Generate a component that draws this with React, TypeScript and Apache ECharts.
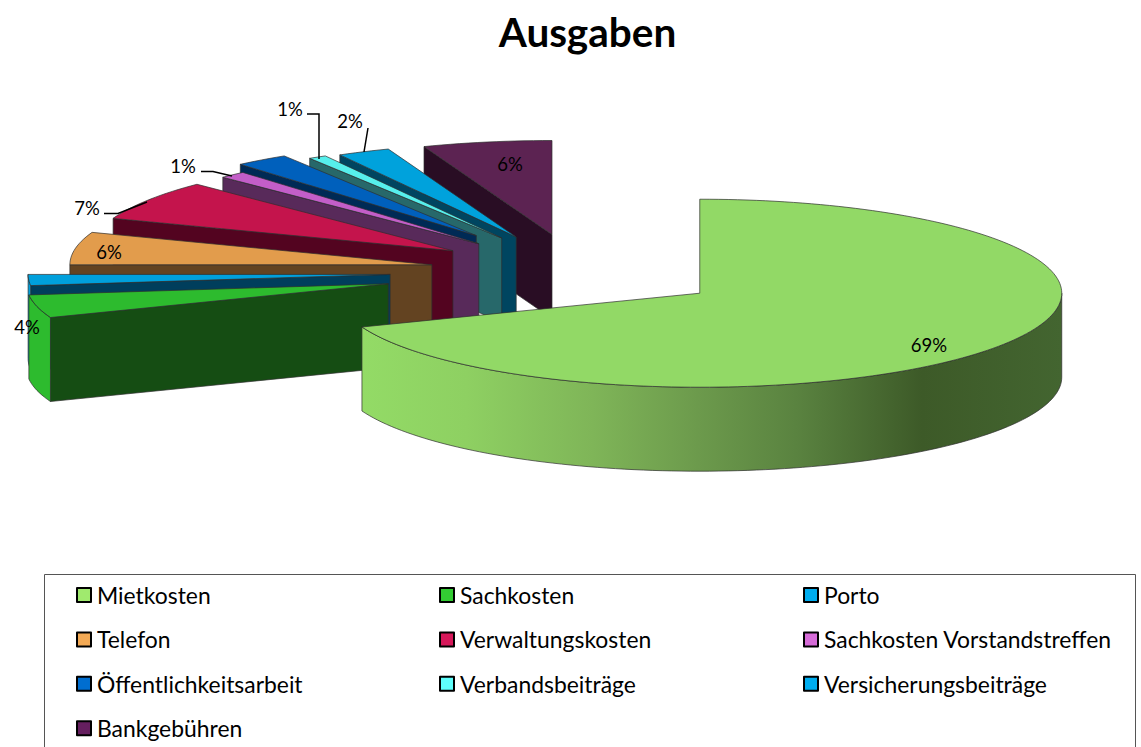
import React, { useEffect, useRef } from "react";
import * as echarts from "echarts";

const categories = ["Mietkosten", "Sachkosten", "Porto", "Telefon", "Verwaltungskosten", "Sachkosten Vorstandstreffen", "Öffentlichkeitsarbeit", "Verbandsbeiträge", "Versicherungsbeiträge", "Bankgebühren"];
const shares = [69.15, 3.95, 1.9, 5.6, 6.9, 1.2, 2.4, 0.8, 2.35, 5.75];
const explosion = [0.408, 0.54, 0.52, 0.41, 0.41, 0.403, 0.474, 0.414, 0.405, 0.4];
const showLabel = [true, true, false, true, true, true, false, true, true, true];

const topColors = ["#92d966", "#2dbb2e", "#00a0dc", "#e29c4c", "#c4144c", "#c35ec8", "#0060bc", "#56efec", "#00a2dc", "#5c2352"];
const faceColors = ["#3f5f2c", "#154d13", "#003e5c", "#634321", "#530420", "#582a5a", "#002a55", "#27686a", "#004560", "#290d24"];
const legendColors = ["#a0ea6e", "#33cc33", "#00adef", "#f4aa55", "#d6185a", "#d66cd8", "#006ed0", "#5ffffc", "#00adef", "#651f5f"];

const labelPos: number[][] = [[929, 345], [27, 327], [0, 0], [109, 252], [87, 208], [183, 166], [0, 0], [290, 109], [350, 121], [510, 164]];
const leaders: number[][][] = [
  [], [], [], [],
  [[104, 213.5], [118, 213.5], [147, 202]],
  [[201, 171.5], [213, 171.5], [232, 176]],
  [],
  [[307, 114], [319, 114], [319, 159]],
  [[368, 128], [364, 152]],
  [],
];

const FONT = "Lato, Carlito, Calibri, sans-serif";
const CX = 578, CY = 271.5, RX = 362, RY = 94, DEPTH = 84;

const cum: number[] = [];
shares.reduce((s, v, i) => { cum[i] = s; return s + v; }, 0);
const total = shares.reduce((a, b) => a + b, 0);
const RAD = Math.PI / 180;

function sliceGeom(i: number) {
  const a0 = (cum[i] / total) * 360;
  const a1 = ((cum[i] + shares[i]) / total) * 360;
  const m = ((a0 + a1) / 2) * RAD;
  const ax = CX + explosion[i] * RX * Math.sin(m);
  const ay = CY - explosion[i] * RY * Math.cos(m);
  const pt = (a: number, dz = 0) => [ax + RX * Math.sin(a * RAD), ay - RY * Math.cos(a * RAD) + dz];
  const arc = (from: number, to: number, dz = 0) => {
    const n = Math.max(2, Math.ceil((to - from) / 1.5));
    const out: number[][] = [];
    for (let k = 0; k <= n; k++) out.push(pt(from + ((to - from) * k) / n, dz));
    return out;
  };
  return { a0, a1, ax, ay, pt, arc };
}

const mainWallFill = {
  type: "linear", x: 0, y: 0, x2: 1, y2: 0,
  colorStops: [
    { offset: 0, color: "#93db66" },
    { offset: 0.15, color: "#8ed062" },
    { offset: 0.33, color: "#7fb558" },
    { offset: 0.48, color: "#6c9a4c" },
    { offset: 0.62, color: "#5a8340" },
    { offset: 0.8, color: "#3d5a28" },
    { offset: 1, color: "#436530" },
  ],
};

const edge = { stroke: "#2e2e2e", lineWidth: 0.7 };

function renderSlice(i: number) {
  return () => {
    const g = sliceGeom(i);
    const children: any[] = [];
    const { a0, a1, ax, ay } = g;
    if (i !== 0) {
      const p0 = g.pt(a0);
      children.push({
        type: "polygon",
        shape: { points: [[ax, ay], p0, [p0[0], p0[1] + DEPTH], [ax, ay + DEPTH]] },
        style: { fill: faceColors[i], ...edge },
      });
    }
    const wallFrom = Math.max(a0, 90);
    const wallTo = Math.min(a1, 270);
    if (wallTo > wallFrom) {
      const pts = g.arc(wallFrom, wallTo).concat(g.arc(wallFrom, wallTo, DEPTH).reverse());
      children.push({
        type: "polygon",
        shape: { points: pts },
        style: { fill: i === 0 ? mainWallFill : topColors[i], ...edge },
      });
    }
    children.push({
      type: "polygon",
      shape: { points: [[ax, ay], ...g.arc(a0, a1)] },
      style: { fill: topColors[i], ...edge },
    });
    return { type: "group", children };
  };
}

function renderLabels(params: any) {
  const i = params.dataIndex;
  if (!showLabel[i]) return { type: "group", children: [] };
  const children: any[] = [];
  if (leaders[i].length) {
    children.push({
      type: "polyline",
      shape: { points: leaders[i] },
      style: { stroke: "#000", lineWidth: 1.5, fill: "none" },
    });
  }
  children.push({
    type: "text",
    style: {
      text: Math.round(shares[i]) + "%",
      x: labelPos[i][0],
      y: labelPos[i][1],
      fill: "#000",
      fontFamily: FONT,
      fontSize: 18.5,
      align: "center",
      verticalAlign: "middle",
    },
  });
  return { type: "group", children };
}

const legendColumns = [
  { left: 76, names: [0, 3, 6, 9] },
  { left: 439, names: [1, 4, 7] },
  { left: 803, names: [2, 5, 8] },
];

export default function App() {
  const ref = useRef<HTMLDivElement>(null);
  useEffect(() => {
    document.body.style.margin = "0";
    const chart = echarts.init(ref.current!, undefined, { renderer: "svg" });
    const order = categories.map((_, i) => i).reverse();
    chart.setOption({
      animation: false,
      backgroundColor: "#fff",
      title: {
        text: "Ausgaben",
        left: 582.5,
        top: 6,
        textAlign: "center",
        textStyle: { fontFamily: FONT, fontSize: 40.5, fontWeight: "bold", color: "#000" },
      },
      legend: legendColumns.map((c) => ({
        orient: "vertical",
        left: c.left,
        top: 582,
        padding: 0,
        itemWidth: 14,
        itemHeight: 14,
        itemGap: 18.4,
        selectedMode: false,
        icon: "rect",
        itemStyle: { borderColor: "#000", borderWidth: 2, borderJoin: "round" },
        textStyle: { fontFamily: FONT, fontSize: 22.9, color: "#000", padding: [0, 0, 0, 1], height: 26, lineHeight: 26 },
        data: c.names.map((i) => categories[i]),
      })),
      graphic: [
        {
          type: "rect",
          z: 0,
          shape: { x: 44.5, y: 574.5, width: 1091, height: 200 },
          style: { fill: "none", stroke: "#555", lineWidth: 1 },
          silent: true,
        },
      ],
      series: [
        ...order.map((i, k) => ({
          type: "custom",
          name: categories[i],
          coordinateSystem: "none",
          silent: true,
          z: 2 + k,
          itemStyle: { color: legendColors[i] },
          data: [shares[i]],
          renderItem: renderSlice(i),
        })),
        {
          type: "custom",
          name: "Anteile",
          coordinateSystem: "none",
          silent: true,
          z: 30,
          data: shares,
          renderItem: renderLabels,
        },
      ],
    });
    return () => chart.dispose();
  }, []);
  return <div ref={ref} style={{ position: "fixed", left: 0, top: 0, width: 1141, height: 747 }} />;
}
